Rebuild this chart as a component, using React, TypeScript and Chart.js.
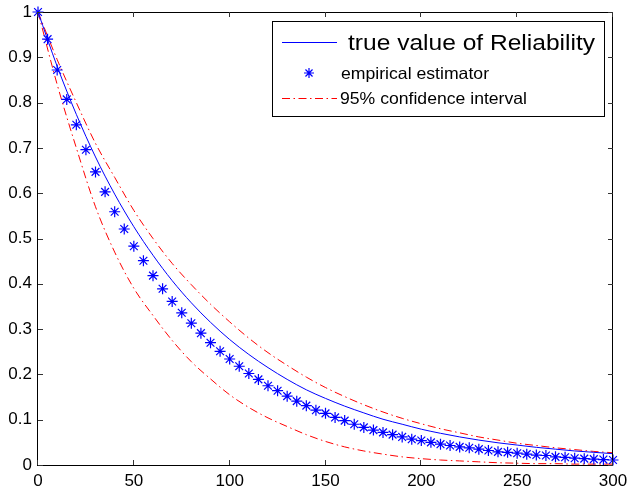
import React, { useEffect, useRef } from "react";
import { Chart, registerables } from "chart.js";

Chart.register(...registerables);

// Empirical estimator, every 5 time units
const starT = [0, 5, 10, 15, 20, 25, 30, 35, 40, 45, 50, 55, 60, 65, 70, 75, 80, 85, 90, 95, 100, 105, 110, 115, 120, 125, 130, 135, 140, 145, 150, 155, 160, 165, 170, 175, 180, 185, 190, 195, 200, 205, 210, 215, 220, 225, 230, 235, 240, 245, 250, 255, 260, 265, 270, 275, 280, 285, 290, 295, 300];
const starValues = [1.0, 0.94, 0.872, 0.807, 0.751, 0.696, 0.647, 0.603, 0.559, 0.521, 0.483, 0.451, 0.418, 0.389, 0.361, 0.336, 0.313, 0.291, 0.27, 0.251, 0.234, 0.218, 0.202, 0.189, 0.175, 0.164, 0.152, 0.141, 0.131, 0.121, 0.114, 0.105, 0.098, 0.09, 0.083, 0.077, 0.072, 0.067, 0.062, 0.057, 0.054, 0.05, 0.046, 0.043, 0.04, 0.038, 0.035, 0.032, 0.029, 0.028, 0.026, 0.024, 0.022, 0.021, 0.018, 0.017, 0.015, 0.014, 0.013, 0.012, 0.011];

// Smooth curves, read every 10 time units
const curveT = [0, 10, 20, 30, 40, 50, 60, 70, 80, 90, 100, 110, 120, 130, 140, 150, 160, 170, 180, 190, 200, 210, 220, 230, 240, 250, 260, 270, 280, 290, 300];
const trueValues = [1.0, 0.88, 0.774, 0.68, 0.598, 0.526, 0.463, 0.407, 0.358, 0.315, 0.277, 0.244, 0.215, 0.189, 0.166, 0.147, 0.13, 0.115, 0.101, 0.09, 0.079, 0.07, 0.062, 0.055, 0.049, 0.044, 0.039, 0.035, 0.031, 0.028, 0.025];
const upperValues = [1.0, 0.895, 0.8, 0.71, 0.635, 0.562, 0.5, 0.445, 0.398, 0.355, 0.316, 0.28, 0.248, 0.22, 0.194, 0.171, 0.151, 0.133, 0.117, 0.103, 0.091, 0.08, 0.071, 0.062, 0.055, 0.048, 0.043, 0.038, 0.034, 0.03, 0.027];
const lowerValues = [1.0, 0.84, 0.7, 0.57, 0.47, 0.39, 0.33, 0.275, 0.228, 0.19, 0.155, 0.127, 0.104, 0.085, 0.067, 0.052, 0.04, 0.031, 0.024, 0.018, 0.014, 0.011, 0.009, 0.007, 0.005, 0.004, 0.003, 0.003, 0.002, 0.002, 0.002];

const legendLabels = ["true value of Reliability", "empirical estimator", "95% confidence interval"];

const FONT = '"Liberation Sans", Arial, Helvetica, sans-serif';
const BLUE = "rgb(0,0,255)";
const RED = "rgb(255,0,0)";
const DASHDOT = [8, 3.5, 1.5, 3.5];

function drawStar(ctx: CanvasRenderingContext2D, x: number, y: number, r: number) {
  ctx.beginPath();
  ctx.moveTo(x, y - r);
  ctx.lineTo(x, y + r);
  ctx.moveTo(x - r, y);
  ctx.lineTo(x + r, y);
  const d = r * Math.SQRT1_2;
  ctx.moveTo(x - d, y - d);
  ctx.lineTo(x + d, y + d);
  ctx.moveTo(x - d, y + d);
  ctx.lineTo(x + d, y - d);
  ctx.stroke();
}

function fitText(ctx: CanvasRenderingContext2D, text: string, x: number, y: number, size: number, width: number) {
  ctx.font = `${size}px ${FONT}`;
  const w = ctx.measureText(text).width;
  const sx = width / w;
  ctx.save();
  ctx.translate(x, y);
  ctx.scale(sx, 1);
  ctx.fillText(text, 0, 0);
  ctx.restore();
}

const framePlugin = {
  id: "matlabFrame",
  afterDatasetsDraw(chart: any) {
    const { ctx, chartArea } = chart;
    const { left, right, top, bottom } = chartArea;
    ctx.save();
    ctx.strokeStyle = "#000";
    ctx.lineWidth = 1;
    ctx.setLineDash([]);
    ctx.strokeRect(left - 0.5, top + 0.5, right - left, bottom - top);
    const tl = 5;
    ctx.strokeStyle = "#333";
    ctx.beginPath();
    chart.scales.x.ticks.forEach((t: any) => {
      const px = Math.round(chart.scales.x.getPixelForValue(t.value)) - 0.5;
      ctx.moveTo(px, bottom);
      ctx.lineTo(px, bottom - tl);
      ctx.moveTo(px, top);
      ctx.lineTo(px, top + tl);
    });
    chart.scales.y.ticks.forEach((t: any) => {
      const py = Math.round(chart.scales.y.getPixelForValue(t.value)) + 0.5;
      ctx.moveTo(left, py);
      ctx.lineTo(left + tl, py);
      ctx.moveTo(right, py);
      ctx.lineTo(right - tl, py);
    });
    ctx.stroke();
    ctx.restore();
  },
};

const legendPlugin = {
  id: "matlabLegend",
  afterDraw(chart: any) {
    const { ctx } = chart;
    const labels = chart.data.datasets.map((d: any) => d.label);
    ctx.save();
    const bx = 272, by = 21, bw = 332, bh = 95;
    ctx.fillStyle = "#fff";
    ctx.fillRect(bx, by, bw, bh);
    ctx.strokeStyle = "#000";
    ctx.lineWidth = 1;
    ctx.setLineDash([]);
    ctx.strokeRect(bx + 0.5, by + 0.5, bw, bh);

    // row 1: solid blue line
    ctx.strokeStyle = BLUE;
    ctx.beginPath();
    ctx.moveTo(282, 42.5);
    ctx.lineTo(337, 42.5);
    ctx.stroke();
    ctx.fillStyle = "#000";
    ctx.textBaseline = "middle";
    ctx.textAlign = "left";
    fitText(ctx, labels[0], 348, 44, 22, 247);

    // row 2: star marker
    ctx.strokeStyle = BLUE;
    ctx.lineWidth = 1.2;
    drawStar(ctx, 309, 73, 5);
    ctx.lineWidth = 1;
    ctx.fillStyle = "#000";
    fitText(ctx, labels[1], 341, 74, 16.5, 148);

    // row 3: dash-dot red
    ctx.strokeStyle = RED;
    ctx.setLineDash(DASHDOT);
    ctx.beginPath();
    ctx.moveTo(282, 98.5);
    ctx.lineTo(337, 98.5);
    ctx.stroke();
    ctx.setLineDash([]);
    ctx.fillStyle = "#000";
    fitText(ctx, labels[2], 340, 99, 16.5, 187);
    ctx.restore();
  },
};

export default function App() {
  const ref = useRef<HTMLCanvasElement | null>(null);

  useEffect(() => {
    if (!ref.current) return;
    const pts = (xs: number[], ys: number[]) => xs.map((x, i) => ({ x, y: ys[i] }));
    const chart = new Chart(ref.current, {
      type: "line",
      data: {
        datasets: [
          {
            label: legendLabels[0],
            data: pts(curveT, trueValues),
            borderColor: BLUE,
            borderWidth: 1,
            pointRadius: 0,
            cubicInterpolationMode: "monotone",
            fill: false,
          },
          {
            label: legendLabels[1],
            data: pts(starT, starValues),
            showLine: false,
            pointStyle: "star",
            pointRadius: 5.5,
            pointBorderColor: BLUE,
            pointBackgroundColor: BLUE,
            pointBorderWidth: 1.2,
            borderColor: BLUE,
            clip: false,
          },
          {
            label: legendLabels[2],
            data: pts(curveT, upperValues),
            borderColor: RED,
            borderWidth: 1,
            borderDash: DASHDOT,
            pointRadius: 0,
            cubicInterpolationMode: "monotone",
            fill: false,
          },
          {
            label: "lower",
            data: pts(curveT, lowerValues),
            borderColor: RED,
            borderWidth: 1,
            borderDash: DASHDOT,
            pointRadius: 0,
            cubicInterpolationMode: "monotone",
            fill: false,
          },
        ] as any,
      },
      options: {
        animation: false,
        responsive: false,
        maintainAspectRatio: false,
        layout: { padding: { left: 0, right: 17, top: 12, bottom: 0 } },
        plugins: {
          legend: { display: false },
          tooltip: { enabled: false },
        },
        scales: {
          x: {
            type: "linear",
            min: 0,
            max: 300,
            ticks: {
              stepSize: 50,
              color: "#000",
              font: { family: FONT, size: 17 },
              padding: 6,
              maxRotation: 0,
            },
            grid: { display: false, drawTicks: false },
            border: { display: false },
            afterFit: (s: any) => {
              s.height = 25;
              s.paddingLeft = 0;
              s.paddingRight = 0;
            },
          },
          y: {
            type: "linear",
            min: 0,
            max: 1,
            ticks: {
              stepSize: 0.1,
              color: "#000",
              font: { family: FONT, size: 17 },
              padding: 6,
              callback: (v: any) => String(Math.round(Number(v) * 10) / 10),
            },
            grid: { display: false, drawTicks: false },
            border: { display: false },
            afterFit: (s: any) => {
              s.width = 38;
              s.paddingTop = 0;
              s.paddingBottom = 0;
            },
          },
        },
      } as any,
      plugins: [framePlugin, legendPlugin],
    });
    return () => chart.destroy();
  }, []);

  return (
    <div style={{ position: "fixed", left: 0, top: 0, width: 630, height: 490, background: "#fff" }}>
      <canvas ref={ref} width={630} height={490} />
    </div>
  );
}
